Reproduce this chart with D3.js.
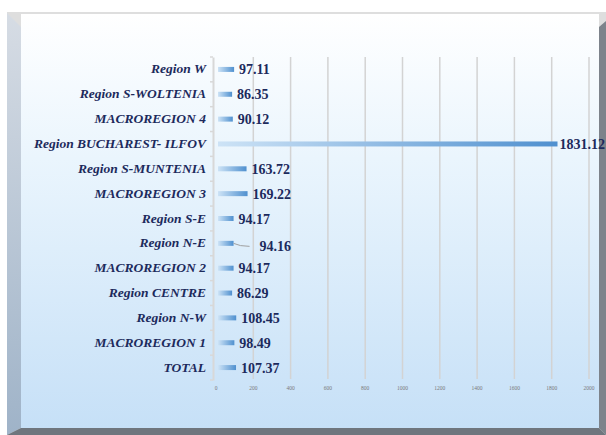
<!DOCTYPE html>
<meta charset="utf-8" />
<script src="https://d3js.org/d3.v7.min.js"></script>
<style>
  body { margin: 0; background: #fff; }
  text { font-family: "Liberation Serif", "Times New Roman", Times, "DejaVu Serif", serif; }
</style>
<body>
  <div id="chart"></div>
  <script>
    // categories, top to bottom
    const regions = [
      "Region W",
      "Region S-WOLTENIA",
      "MACROREGION 4",
      "Region BUCHAREST- ILFOV",
      "Region S-MUNTENIA",
      "MACROREGION 3",
      "Region S-E",
      "Region N-E",
      "MACROREGION 2",
      "Region CENTRE",
      "Region N-W",
      "MACROREGION 1",
      "TOTAL"
    ];
    const values = [97.11, 86.35, 90.12, 1831.12, 163.72, 169.22, 94.17, 94.16, 94.17, 86.29, 108.45, 98.49, 107.37];
    const xTicks = [0, 200, 400, 600, 800, 1000, 1200, 1400, 1600, 1800, 2000];

    const W = 606, H = 435;
    const svg = d3.select("#chart").append("svg")
      .attr("width", W).attr("height", H);

    const defs = svg.append("defs");
    // face background
    const bg = defs.append("linearGradient").attr("id", "bg")
      .attr("x1", 0).attr("y1", 0).attr("x2", 0).attr("y2", 1);
    bg.append("stop").attr("offset", 0).attr("stop-color", "#ffffff");
    bg.append("stop").attr("offset", 0.35).attr("stop-color", "#eaf5fd");
    bg.append("stop").attr("offset", 1).attr("stop-color", "#c6e0f7");
    // left bevel
    const lb = defs.append("linearGradient").attr("id", "lb")
      .attr("x1", 0).attr("y1", 0).attr("x2", 0).attr("y2", 1);
    lb.append("stop").attr("offset", 0).attr("stop-color", "#d6dce4");
    lb.append("stop").attr("offset", 1).attr("stop-color", "#9fb3c8");
    // bars
    const bar = defs.append("linearGradient").attr("id", "bar")
      .attr("x1", 0).attr("y1", 0).attr("x2", 1).attr("y2", 0);
    bar.append("stop").attr("offset", 0).attr("stop-color", "#cde3f6");
    bar.append("stop").attr("offset", 1).attr("stop-color", "#4f90cf");

    // frame
    svg.append("rect").attr("x", 7).attr("y", 12).attr("width", 599).attr("height", 423).attr("fill", "#dedede");
    svg.append("rect").attr("x", 21).attr("y", 14).attr("width", 578).attr("height", 414).attr("fill", "url(#bg)");
    svg.append("path").attr("d", "M7,13 L21,27 L21,428 L7,435 Z").attr("fill", "url(#lb)");
    svg.append("path").attr("d", "M599,27 L606,21 L606,435 L599,428 Z").attr("fill", "#7d838b");
    svg.append("path").attr("d", "M7,435 L21,428 L599,428 L606,435 Z").attr("fill", "#6f767e");

    const x = d3.scaleLinear().domain([0, 2000]).range([216, 589]);
    const y = d3.scaleBand().domain(regions).range([57, 380]);

    // gridlines
    svg.append("g").selectAll("line").data(xTicks.slice(1)).join("line")
      .attr("x1", d => x(d)).attr("x2", d => x(d))
      .attr("y1", 57).attr("y2", 379)
      .attr("stroke", "#d3d3d3").attr("stroke-width", 1.5);

    // x tick labels
    svg.append("g").selectAll("text").data(xTicks).join("text")
      .attr("x", d => x(d)).attr("y", 390)
      .attr("text-anchor", "middle")
      .attr("font-size", 5.5)
      .attr("fill", "#7a7a7a")
      .text(d => d);

    // category axis
    const yAxis = svg.append("g").attr("transform", "translate(213,0)")
      .call(d3.axisLeft(y).tickSize(0).tickFormat(""));
    yAxis.select(".domain").attr("stroke", "#d8d8d8").attr("stroke-width", 2);
    svg.append("g").selectAll("line").data(d3.range(regions.length + 1)).join("line")
      .attr("x1", 210).attr("x2", 213)
      .attr("y1", i => 57 + i * y.step()).attr("y2", i => 57 + i * y.step())
      .attr("stroke", "#d8d8d8").attr("stroke-width", 1.5);

    // category labels
    svg.append("g").selectAll("text").data(regions).join("text")
      .attr("x", 206).attr("y", d => y(d) + y.bandwidth() / 2 + 4)
      .attr("text-anchor", "end")
      .attr("font-style", "italic").attr("font-weight", "bold")
      .attr("font-size", 13.5)
      .attr("fill", "#1c2a5c")
      .text(d => d);

    // bars
    svg.append("g").selectAll("rect").data(values).join("rect")
      .attr("x", x(0) + 2)
      .attr("y", (d, i) => y(regions[i]) + y.bandwidth() / 2 - 2.5)
      .attr("width", d => x(d) - x(0) - 2)
      .attr("height", 5)
      .attr("fill", "url(#bar)");

    // leader line for the N-E label
    const ne = regions.indexOf("Region N-E");
    const neY = y(regions[ne]) + y.bandwidth() / 2;
    svg.append("path")
      .attr("d", `M${x(values[ne])},${neY} Q${x(values[ne]) + 6},${neY + 3} ${x(values[ne]) + 16},${neY + 3}`)
      .attr("fill", "none").attr("stroke", "#a0a0a0").attr("stroke-width", 1);

    // value labels (kept inside the picture)
    svg.append("g").selectAll("text").data(values).join("text")
      .attr("y", (d, i) => y(regions[i]) + y.bandwidth() / 2 + 5 + (i === ne ? 3 : 0))
      .attr("font-weight", "bold")
      .attr("font-size", 14)
      .attr("fill", "#1c2a5c")
      .text(d => d.toFixed(2))
      .attr("x", function (d, i) {
        const w = this.getComputedTextLength();
        return Math.min(x(d) + (i === ne ? 26 : 5), W - w - 1);
      });
  </script>
</body>
